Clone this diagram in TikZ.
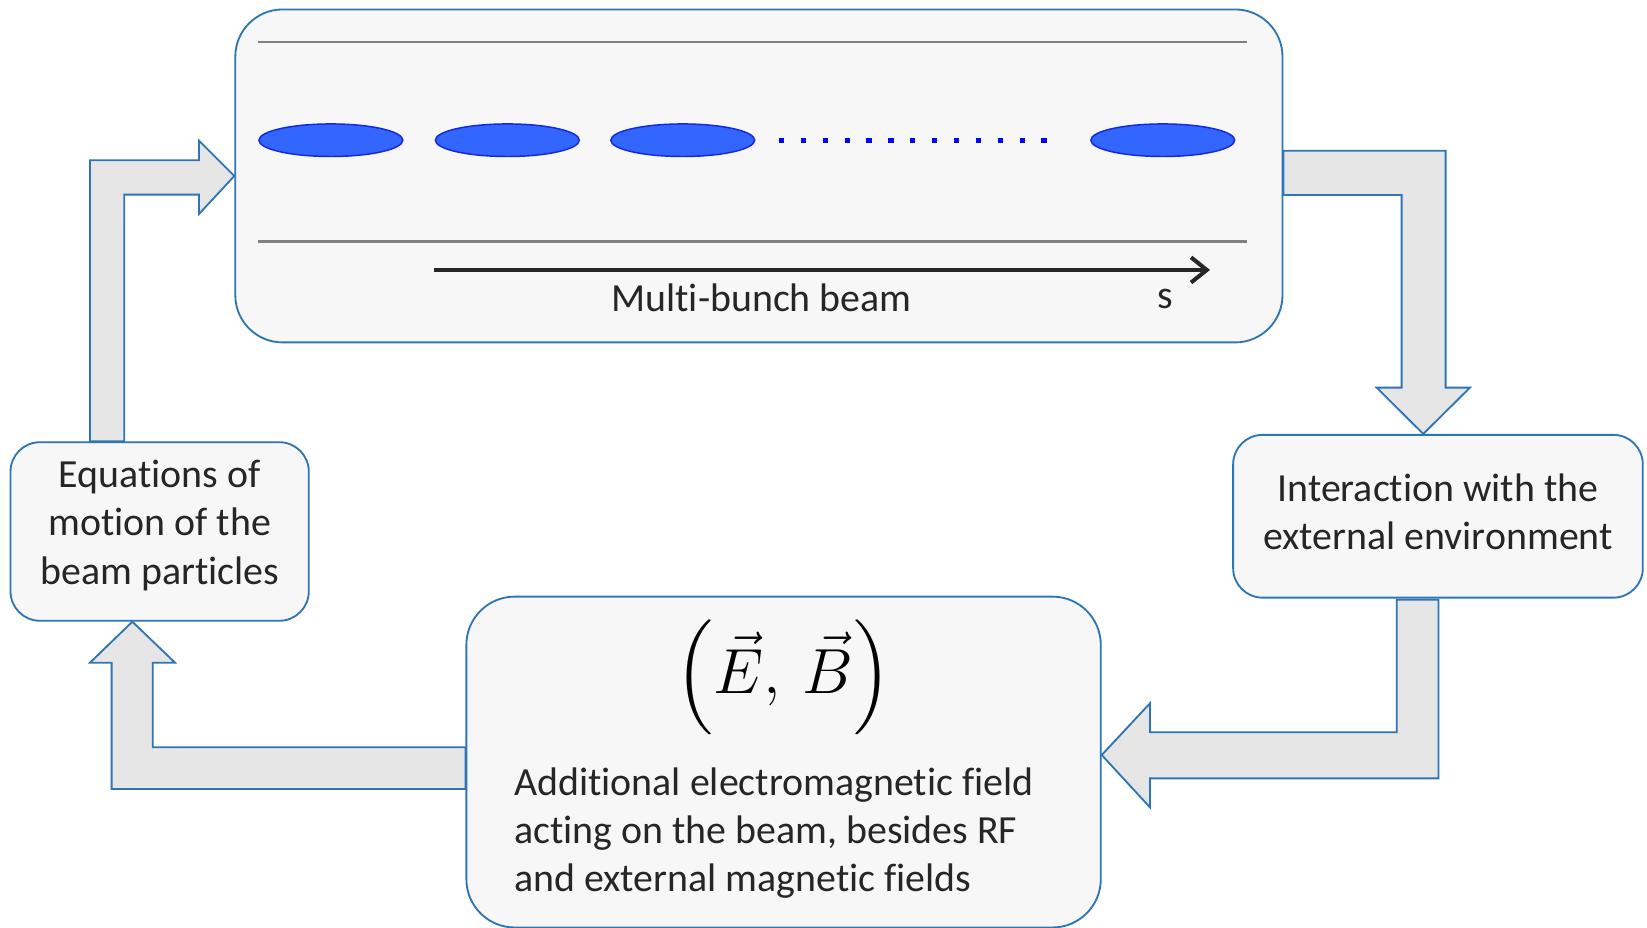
\documentclass[tikz,border=0pt]{standalone}
\usepackage{amsmath}
\usepackage{fontspec}
\setmainfont{Carlito}[Ligatures=NoCommon]
\usetikzlibrary{positioning}
\usetikzlibrary{arrows.meta}
\usetikzlibrary{shapes.geometric}
\usetikzlibrary{calc}

\definecolor{boxline}{RGB}{46,117,182}
\definecolor{boxfill}{RGB}{247,247,247}
\definecolor{arrfill}{RGB}{230,230,230}
\definecolor{bunchfill}{RGB}{51,102,255}
\definecolor{bunchline}{RGB}{20,40,225}
\definecolor{pipegray}{RGB}{128,128,128}
\definecolor{txt}{RGB}{38,38,38}

\tikzset{
  roundbox/.style={draw=boxline, fill=boxfill, line width=0.5pt, text=txt, align=center, inner sep=0pt},
  blockarr/.style={draw=boxline, fill=arrfill, line width=0.5pt, line join=miter},
  bunch/.style={ellipse, draw=bunchline, fill=bunchfill, line width=0.4pt, minimum width=13.7mm, minimum height=3.1mm, inner sep=0pt},
  pipe/.style={draw=pipegray, line width=0.7pt},
}

\begin{document}
\begin{tikzpicture}[x=0.1mm, y=-0.1mm, font=\fontsize{10.8}{13.1}\selectfont]
    \useasboundingbox (0,0) rectangle (1568,883);
    % boxes
    \node[roundbox, rounded corners=4.5mm, minimum width=99.7mm, minimum height=31.7mm] (beam) at (722.5,167.5) {};
    \node[roundbox, rounded corners=2.8mm, minimum width=28.4mm, minimum height=17mm, text depth=5pt] (eqm) at (152,506) {Equations of\\motion of the\\beam particles};
    \node[roundbox, rounded corners=2.8mm, minimum width=39mm, minimum height=15.5mm, text depth=2.4pt] (env) at (1369,491.5) {Interaction with the\\external environment};
    \node[roundbox, rounded corners=4.6mm, minimum width=60.4mm, minimum height=31.5mm] (field) at (746,725.5) {};
    % inside the beam box
    \draw[pipe] (246,40) -- (1187,40);
    \draw[pipe] (246,230) -- (1187,230);
    \foreach \x [count=\i] in {315,483,650,1107}
        \node[bunch] (b\i) at (\x,133.5) {};
    \draw[blue, line width=0.5mm, dash pattern=on 0.5mm off 1.583mm] (b3.east -| 741.5,0) -- (b4.west -| 996.5,0);
    \coordinate (s0) at (413,257);
    \coordinate (s1) at (1152,257);
    \draw[-{Straight Barb[length=1.5mm,width=2.4mm]}, line width=1.1pt, draw=txt] (s0) -- (s1);
    \node[text=txt] (mbb) at (725,284) {Multi-bunch beam};
    \node[text=txt] (slab) at (1109,285) {s};
    % inside the field box
    \node (eb) at (746,645) {\fontsize{16}{19}\selectfont$\Bigl(\vec{E},\,\vec{B}\Bigr)$};
    \node[text=txt, align=left, anchor=west, inner sep=0pt] (fieldtxt) at (489,793) {Additional electromagnetic field\\acting on the beam, besides RF\\and external magnetic fields};
    % block arrows
    \draw[blockarr] (85.7,0 |- eqm.north) -- (85.7,152.6) -- (189.5,152.6) -- (189.5,134) -- (beam.west)
        -- (189.5,203.7) -- (189.5,185.3) -- (118.3,185.3) -- (118.3,0 |- eqm.north) -- cycle;
    \draw[blockarr] (beam.east |- 0,143.5) -- (1376.3,143.5) -- (1376.3,369) -- (1399.5,369) -- (1355,0 |- env.north)
        -- (1310.6,369) -- (1334.4,369) -- (1334.4,185.6) -- (beam.east |- 0,185.6) -- cycle;
    \draw[blockarr] (1329.7,571) -- (1369.5,571) -- (1369.5,741) -- (1094.8,741) -- (1094.8,768.6) -- (field.east |- 0,718.8)
        -- (1094.8,669.6) -- (1094.8,697.2) -- (1329.7,697.2) -- cycle;
    \draw[blockarr] (field.west |- 0,711.4) -- (145.4,711.4) -- (145.4,630.9) -- (166.6,630.9) -- (126,0 |- eqm.south)
        -- (85.7,630.9) -- (106.3,630.9) -- (106.3,751.2) -- (field.west |- 0,751.2) -- cycle;
\end{tikzpicture}
\end{document}
